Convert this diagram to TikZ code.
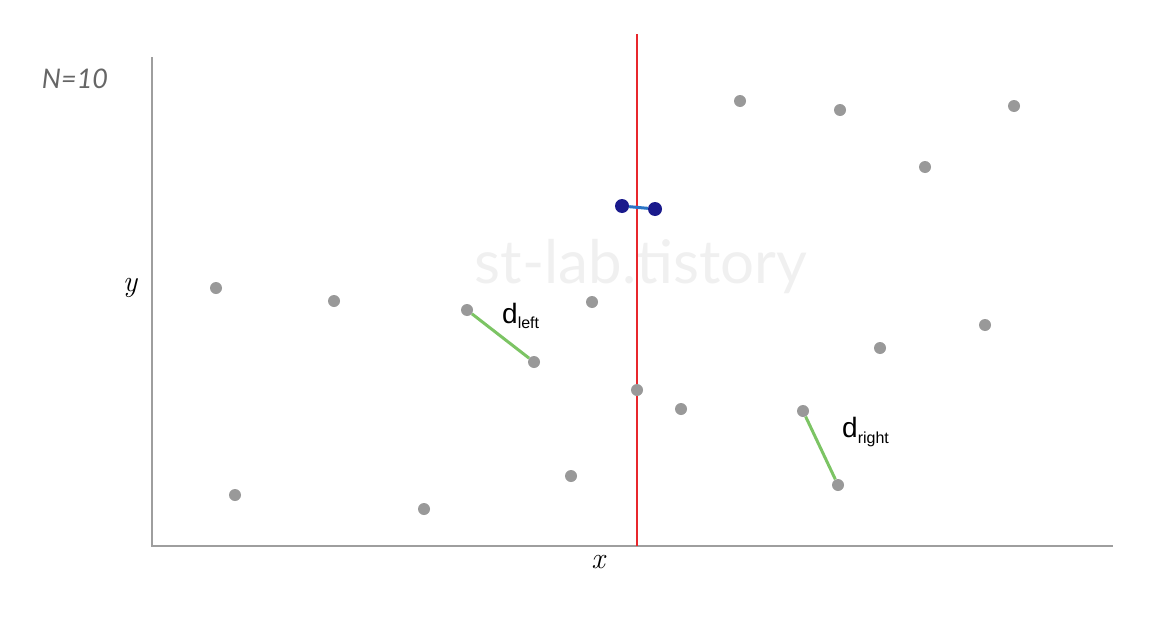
\documentclass[tikz,border=0pt]{standalone}
\usepackage{fontspec}
\setmainfont{Latin Modern Roman}
\newfontfamily\labfont{Liberation Sans}
\newfontfamily\nfont{Lato}
\begin{document}
\begin{tikzpicture}[x=1pt,y=-1pt,
  pt/.style={circle,fill=dotgray,inner sep=0pt,minimum size=12pt},
  bpt/.style={circle,fill=navy,inner sep=0pt,minimum size=14pt},
  axis/.style={draw=axisgray,line width=2.2pt},
  dline/.style={draw=dgreen,line width=3pt},
  lab/.style={font=\labfont\fontsize{28}{32}\selectfont,inner sep=0pt,anchor=west},
  axlab/.style={font=\itshape\fontsize{30}{34}\selectfont,inner sep=0pt}
]
\definecolor{dotgray}{HTML}{999999}
\definecolor{axisgray}{HTML}{9E9E9E}
\definecolor{navy}{HTML}{1A1A8C}
\definecolor{bline}{HTML}{2A74C6}
\definecolor{dgreen}{HTML}{7CC464}
\definecolor{wm}{HTML}{F0F0F0}
\definecolor{nred}{HTML}{E8262C}
\useasboundingbox (0,0) rectangle (1149,621);
% watermark
\node[font=\nfont\fontsize{60}{62}\selectfont,text=wm,inner sep=0pt] (wmk) at (641,267) {st-lab.tistory};
% axes
\coordinate (o) at (152,546);
\coordinate (ytop) at (152,57);
\coordinate (xend) at (1113,546);
\draw[axis] (ytop) -- (o) -- (xend);
\node[axlab] (ylab) at (130,288) {y};
\node[axlab] (xlab) at (598,562) {x};
\node[font=\nfont\itshape\fontsize{27}{30}\selectfont,text=black!60] (nlab) at (75,79) {N=10};
% red split line
\coordinate (rtop) at (637,34);
\coordinate (rbot) at (637,546);
\draw[nred,line width=1.8pt] (rtop) -- (rbot);
% gray points
\node[pt] (p1) at (216,288) {};
\node[pt] (p2) at (334,301) {};
\node[pt] (p3) at (467,310) {};
\node[pt] (p4) at (534,362) {};
\node[pt] (p5) at (592,302) {};
\node[pt] (p6) at (637,390) {};
\node[pt] (p7) at (681,409) {};
\node[pt] (p8) at (571,476) {};
\node[pt] (p9) at (424,509) {};
\node[pt] (p10) at (235,495) {};
\node[pt] (q1) at (740,101) {};
\node[pt] (q2) at (840,110) {};
\node[pt] (q3) at (1014,106) {};
\node[pt] (q4) at (925,167) {};
\node[pt] (q5) at (985,325) {};
\node[pt] (q6) at (880,348) {};
\node[pt] (q7) at (803,411) {};
\node[pt] (q8) at (838,485) {};
% green distances
\draw[dline] (p3) -- (p4);
\draw[dline] (q7) -- (q8);
\node[lab] (dl) at (502,316) {d\raisebox{-0.35ex}{\fontsize{16}{18}\selectfont left}};
\node[lab] (dr) at (842,432) {d\raisebox{-0.35ex}{\fontsize{16}{18}\selectfont right}};
% blue pair
\node[bpt] (b1) at (622,206) {};
\node[bpt] (b2) at (655,209) {};
\draw[bline,line width=3pt] (b1) -- (b2);
\end{tikzpicture}
\end{document}
